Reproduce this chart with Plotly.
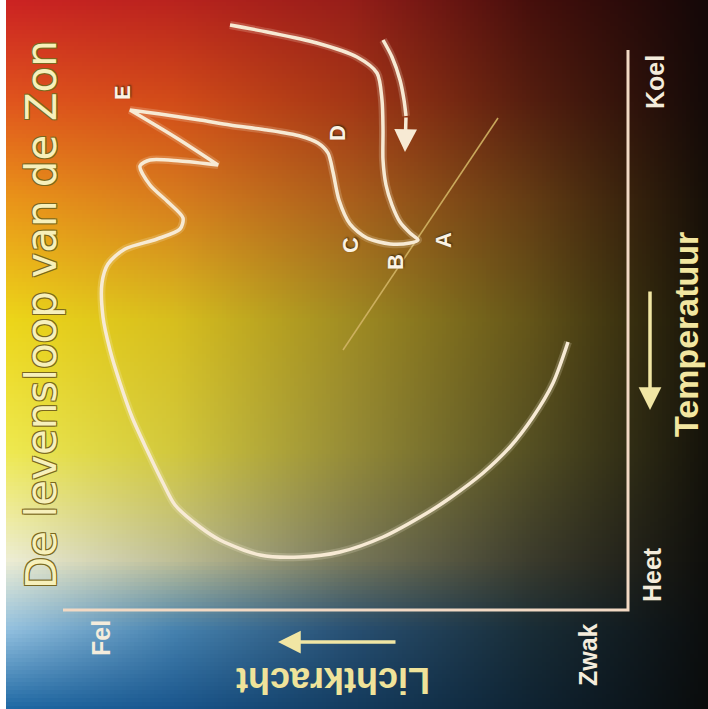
import numpy as np
import plotly.graph_objects as go

# ---- data (chart is printed rotated 90 degrees; units = chart canvas units) ----
# evolutionary track of the Sun (E tip and zig corner repeated to keep them sharp)
track_x = [230, 267, 317, 357, 377, 382, 383, 383, 386, 392, 400, 410, 418,
           410, 390, 367, 350, 339, 333, 328, 318, 300, 267, 230, 200, 160, 130, 130,
           175, 218, 218, 180, 150, 140, 150, 168, 183, 180, 157, 125, 108, 102, 103,
           110, 120, 132, 147, 163, 175, 200, 220, 260, 300, 340, 383, 427, 450,
           483, 510, 533, 553, 568]
track_y = [25, 32, 43, 57, 73, 100, 130, 160, 185, 205, 222, 233, 240,
           243, 244, 238, 224, 200, 172, 153, 143, 136, 130, 125, 120, 114, 110, 110,
           137, 165, 165, 161, 160, 166, 185, 202, 218, 229, 239, 249, 264, 283, 317,
           350, 383, 417, 450, 483, 505, 527, 540, 555, 557, 552, 537, 513, 498,
           473, 447, 417, 383, 342]
# contraction arrow (pre-main sequence)
arrow_x = [383, 392, 400, 404, 406]
arrow_y = [40, 57, 80, 100, 116]
arrow_tip = (405, 152)
# phase labels
phase_labels = ["A", "B", "C", "D", "E"]
phase_x = [443, 395, 350, 337, 122]
phase_y = [240, 262, 245, 133, 93]
# diagonal reference line
strip_x = [343, 498]
strip_y = [350, 118]
# axis frame
frame_x = [628, 628, 63]
frame_y = [50, 610, 610]

title = "De levensloop van de Zon"
lum_title = "Lichtkracht"
temp_title = "Temperatuur"
lum_ticks = ["Fel", "Zwak"]
temp_ticks = ["Heet", "Koel"]

# ---- background gradient ----
W, H = 708, 709
gx = np.array([0, 175, 350, 530, 708])
gy = np.array([0, 100, 200, 320, 450, 560, 630, 709])
cols = np.array([
    [(205, 35, 35), (185, 35, 30), (150, 30, 25), (70, 15, 12), (20, 8, 8)],
    [(225, 85, 30), (210, 75, 25), (165, 55, 22), (85, 30, 15), (20, 10, 8)],
    [(235, 150, 25), (215, 125, 30), (170, 95, 28), (100, 60, 20), (22, 15, 8)],
    [(238, 215, 25), (215, 190, 30), (160, 140, 35), (100, 85, 25), (22, 18, 8)],
    [(240, 235, 80), (210, 200, 60), (150, 140, 55), (85, 80, 35), (20, 18, 10)],
    [(240, 240, 215), (190, 190, 150), (120, 120, 90), (60, 60, 45), (15, 15, 12)],
    [(150, 195, 225), (70, 130, 175), (40, 80, 115), (25, 45, 55), (12, 14, 14)],
    [(30, 105, 165), (25, 85, 140), (20, 60, 95), (15, 35, 50), (10, 12, 12)],
], dtype=float)
step = 4
xs = np.arange(0, W + step, step)
ys = np.arange(0, H + step, step)
tmp = np.zeros((len(gy), len(xs), 3))
for r in range(len(gy)):
    for c in range(3):
        tmp[r, :, c] = np.interp(xs, gx, cols[r, :, c])
img = np.zeros((len(ys), len(xs), 3))
for i in range(len(xs)):
    for c in range(3):
        img[:, i, c] = np.interp(ys, gy, tmp[:, i, c])
img = img.astype(np.uint8)

fig = go.Figure()
fig.add_trace(go.Image(z=img, x0=0, y0=0, dx=step, dy=step, zsmooth="fast",
                       hoverinfo="skip"))

line_col = "#f7ead4"
fig.add_trace(go.Scatter(x=strip_x, y=strip_y, mode="lines",
                         line=dict(color="rgba(210,180,100,0.9)", width=1.6),
                         hoverinfo="skip"))
fig.add_trace(go.Scatter(x=frame_x, y=frame_y, mode="lines",
                         line=dict(color="#f2d9c4", width=3), hoverinfo="skip"))
for xx, yy in [(track_x, track_y), (arrow_x, arrow_y)]:
    fig.add_trace(go.Scatter(x=xx, y=yy, mode="lines",
                             line=dict(color="rgba(255,245,220,0.2)", width=8,
                                       shape="spline", smoothing=0.8),
                             hoverinfo="skip"))
    fig.add_trace(go.Scatter(x=xx, y=yy, mode="lines",
                             line=dict(color=line_col, width=3.5, shape="spline",
                                       smoothing=0.8),
                             hoverinfo="skip"))

ann = []
# arrowhead of the contraction track
ann.append(dict(x=arrow_tip[0], y=arrow_tip[1], ax=arrow_x[-1], ay=arrow_y[-1],
                xref="x", yref="y", axref="x", ayref="y", showarrow=True,
                arrowhead=2, arrowsize=1.3, arrowwidth=3.5, arrowcolor=line_col, text=""))
# axis direction arrows
ann.append(dict(x=650, y=410, ax=650, ay=290, xref="x", yref="y", axref="x", ayref="y",
                showarrow=True, arrowhead=2, arrowsize=1.3, arrowwidth=3.5,
                arrowcolor="#f1e6a4", text=""))
ann.append(dict(x=278, y=642, ax=397, ay=642, xref="x", yref="y", axref="x", ayref="y",
                showarrow=True, arrowhead=2, arrowsize=1.3, arrowwidth=3.5,
                arrowcolor="#f1e6a4", text=""))

for lab, px, py in zip(phase_labels, phase_x, phase_y):
    ann.append(dict(x=px, y=py, text=lab, showarrow=False, textangle=-90,
                    font=dict(family="Liberation Sans", size=22, color="#fbf3e4",
                              weight="bold", shadow="1px 1px 2px #3a2a10")))

label_font = dict(family="Liberation Sans", size=25, color="#f4ecdc", weight="bold")
ann.append(dict(x=101, y=638, text=lum_ticks[0], showarrow=False, textangle=-90, font=label_font))
ann.append(dict(x=588, y=655, text=lum_ticks[1], showarrow=False, textangle=-90, font=label_font))
ann.append(dict(x=652, y=575, text=temp_ticks[0], showarrow=False, textangle=-90, font=label_font))
ann.append(dict(x=655, y=82, text=temp_ticks[1], showarrow=False, textangle=-90, font=label_font))

ann.append(dict(x=686, y=335, text=temp_title, showarrow=False, textangle=-90,
                font=dict(family="Liberation Sans", size=34, color="#f2e6a0", weight="bold")))
ann.append(dict(x=333, y=681, text=lum_title, showarrow=False, textangle=180,
                font=dict(family="Liberation Sans", size=36, color="#efe39a", weight="bold")))
ann.append(dict(x=41, y=315, text=title, showarrow=False, textangle=-90,
                font=dict(family="DejaVu Sans", size=42, color="#f7f0bb",
                          shadow="1px 1px 0px #7a6820, -1px -1px 0px #7a6820, "
                                 "1px -1px 0px #7a6820, -1px 1px 0px #7a6820")))

fig.update_layout(
    width=708, height=709, margin=dict(l=0, r=0, t=0, b=0),
    showlegend=False, paper_bgcolor="black", plot_bgcolor="black",
    xaxis=dict(range=[0, 708], visible=False, fixedrange=True),
    yaxis=dict(range=[709, 0], visible=False, fixedrange=True),
    annotations=ann,
    shapes=[dict(type="rect", xref="x", yref="y", x0=0, x1=6, y0=0, y1=709,
                 fillcolor="white", line=dict(width=0), layer="above")],
)

fig.write_html("out.html", config={"displayModeBar": False},
               post_script="document.body.style.margin='0';")
